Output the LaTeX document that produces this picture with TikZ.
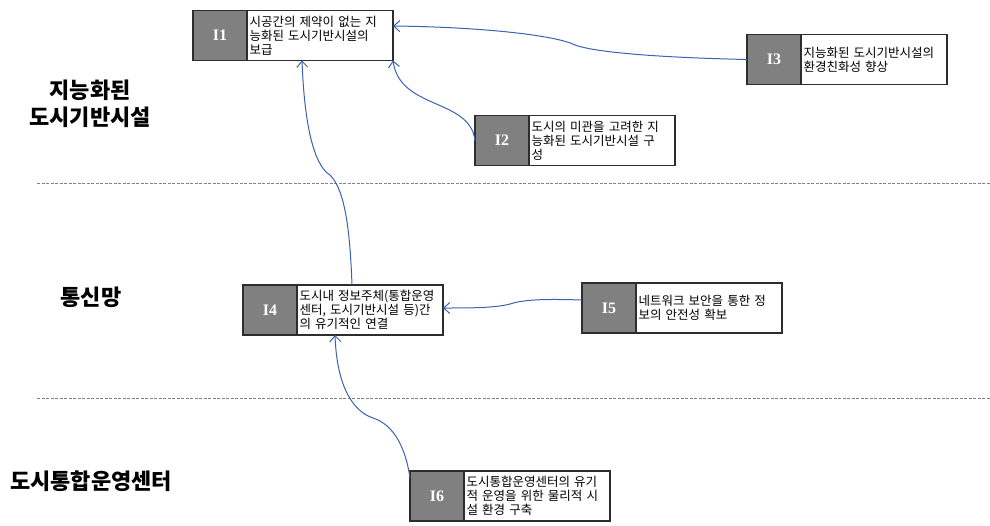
\documentclass[tikz,border=0pt]{standalone}
\usepackage{fontspec}
\setmainfont{Noto Sans CJK KR}
\newfontfamily\kor{Noto Sans CJK KR}
\newfontfamily\labfont{Liberation Serif}
\usetikzlibrary{arrows.meta,calc}
\definecolor{linkblue}{RGB}{58,98,176}
\definecolor{boxgray}{RGB}{128,128,128}
\definecolor{framegray}{RGB}{45,45,45}
\tikzset{
  gbox/.style={draw=framegray, line width=1.3pt, fill=boxgray, minimum width=54pt, minimum height=50pt,
    inner sep=0pt, outer sep=0pt, anchor=north west, text=white, font=\labfont\bfseries\fontsize{16}{18}\selectfont},
  tbox/.style={draw=framegray, line width=1.3pt, fill=white, text width=141pt, inner xsep=2.5pt, inner ysep=1pt,
    minimum height=50pt, outer sep=0pt, anchor=north west, align=left, font=\kor\fontsize{12.5}{14}\selectfont},
  layerlabel/.style={font=\kor\bfseries\fontsize{22}{27}\selectfont, align=center},
  divider/.style={draw=gray, line width=0.8pt, dash pattern=on 3pt off 1.5pt},
  link/.style={draw=linkblue, line width=1pt, -{Straight Barb[length=6pt,width=11pt]}}
}
\begin{document}
\begin{tikzpicture}[x=1pt,y=-1pt]
\useasboundingbox (0,0) rectangle (990,525);

% dividers
\coordinate (d1a) at (37,183); \coordinate (d1b) at (990,183);
\coordinate (d2a) at (37,398); \coordinate (d2b) at (990,398);
\draw[divider] (d1a) -- (d1b);
\draw[divider] (d2a) -- (d2b);

% layer labels
\node[layerlabel] (l1) at (90,104) {지능화된\\도시기반시설};
\node[layerlabel] (l2) at (91,297) {통신망};
\node[layerlabel] (l3) at (91,481) {도시통합운영센터};

% boxes
\node[gbox] (i1g) at (193,10.5) {I1};
\node[tbox] (i1t) at (i1g.north east) {시공간의 제약이 없는 지\\능화된 도시기반시설의\\보급};

\node[gbox] (i3g) at (747,34.5) {I3};
\node[tbox] (i3t) at (i3g.north east) {지능화된 도시기반시설의\\환경친화성 향상};

\node[gbox] (i2g) at (475,115.5) {I2};
\node[tbox] (i2t) at (i2g.north east) {도시의 미관을 고려한 지\\능화된 도시기반시설 구\\성};

\node[gbox] (i4g) at (243,285) {I4};
\node[tbox] (i4t) at (i4g.north east) {도시내 정보주체(통합운영\\센터, 도시기반시설 등)간\\의 유기적인 연결};

\node[gbox] (i5g) at (582,283) {I5};
\node[tbox] (i5t) at (i5g.north east) {네트워크 보안을 통한 정\\보의 안전성 확보};

\node[gbox] (i6g) at (410,471) {I6};
\node[tbox] (i6t) at (i6g.north east) {도시통합운영센터의 유기\\적 운영을 위한 물리적 시\\설 환경 구축};

% connectors
\draw[link] (i3g.west) .. controls (680,58) and (600,54) .. (575,45)
  .. controls (555,35) and (480,27) .. ([yshift=9.5pt]i1t.east);
\draw[link] (i2g.west) .. controls (470,98) and (400,110) .. (i1t.south east);
\draw[link] ([xshift=-18pt]i4t.north) .. controls (350,230) and (345,190) .. (330,175)
  .. controls (318,168) and (305,140) .. ([xshift=-18pt]i1t.south);
\draw[link] ([yshift=8pt]i5g.west) .. controls (550,299) and (525,299) .. (510,304)
  .. controls (495,308) and (470,308) .. ([yshift=2pt]i4t.east);
\draw[link] ([yshift=-7pt]i6g.north west) .. controls (406,450) and (395,425) .. (373,418)
  .. controls (355,412) and (337,390) .. ([xshift=-35pt]i4t.south);
\end{tikzpicture}
\end{document}
